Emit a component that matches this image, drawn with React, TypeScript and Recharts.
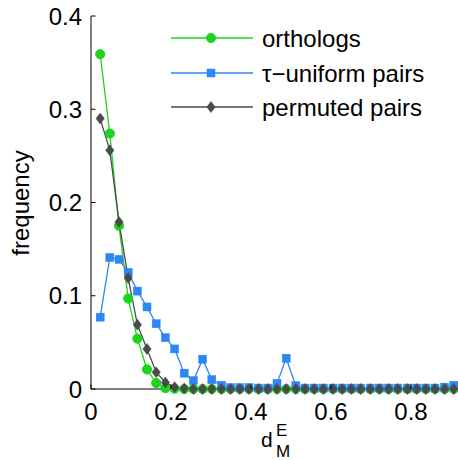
import { Label, Legend, Line, LineChart, XAxis, YAxis } from "recharts";

// bin positions (d_M^E)
const binX = [
  0.023, 0.047, 0.07, 0.093, 0.116, 0.14, 0.163, 0.186, 0.209, 0.233,
  0.256, 0.279, 0.302, 0.326, 0.349, 0.372, 0.395, 0.419, 0.442, 0.465,
  0.488, 0.512, 0.535, 0.558, 0.581, 0.605, 0.628, 0.651, 0.674, 0.698,
  0.721, 0.744, 0.767, 0.791, 0.814, 0.837, 0.86, 0.884, 0.907, 0.93
];

const orthologs = [
  0.359, 0.274, 0.175, 0.097, 0.054, 0.021, 0.0064, 0.001, 0.0003, 0,
  0, 0, 0, 0, 0, 0, 0, 0, 0, 0,
  0, 0, 0, 0, 0, 0, 0, 0, 0, 0,
  0, 0, 0, 0, 0, 0, 0, 0, 0, 0
];

const uniformPairs = [
  0.077, 0.141, 0.139, 0.125, 0.105, 0.088, 0.07, 0.055, 0.043, 0.017,
  0.009, 0.032, 0.01, 0.004, 0.0015, 0.0015, 0.0015, 0.001, 0.001, 0.006,
  0.033, 0.0035, 0.001, 0.001, 0.001, 0.001, 0.001, 0.001, 0.001, 0.001,
  0.001, 0.001, 0.001, 0.001, 0.001, 0.001, 0.001, 0.002, 0.004, 0.01
];

const permutedPairs = [
  0.29, 0.256, 0.179, 0.119, 0.069, 0.043, 0.018, 0.007, 0.002, 0.0005,
  0, 0, 0, 0, 0, 0, 0, 0, 0, 0,
  0, 0, 0, 0, 0, 0, 0, 0, 0, 0,
  0, 0, 0, 0, 0, 0, 0, 0, 0, 0
];

const xTicks = [0, 0.2, 0.4, 0.6, 0.8];
const yTicks = [0, 0.1, 0.2, 0.3, 0.4];

const GREEN = "#1bd41b";
const BLUE = "#2d86f2";
const GRAY = "#4a4a4a";
const FONT = "'Liberation Sans', Arial, Helvetica, sans-serif";

const rows = binX.map((x, i) => ({
  x,
  orthologs: orthologs[i],
  uniform: uniformPairs[i],
  permuted: permutedPairs[i]
}));

const legendItems = [
  { name: "orthologs", color: GREEN, shape: "circle" },
  { name: "\u03c4\u2212uniform pairs", color: BLUE, shape: "square" },
  { name: "permuted pairs", color: GRAY, shape: "diamond" }
];

function Marker({ shape, cx, cy, color }: { shape: string; cx: number; cy: number; color: string }) {
  if (shape === "circle") return <circle cx={cx} cy={cy} r={4.6} fill={color} stroke={color} />;
  if (shape === "square") return <rect x={cx - 4} y={cy - 4} width={8} height={8} fill={color} stroke={color} strokeWidth={0.5} />;
  return (
    <polygon
      points={`${cx},${cy - 5.5} ${cx + 4.2},${cy} ${cx},${cy + 5.5} ${cx - 4.2},${cy}`}
      fill={color}
      stroke={color}
      strokeWidth={0.5}
    />
  );
}

const makeDot = (shape: string, color: string) => (p: any) => {
  if (p.cx == null || p.cy == null) return <g key={p.index} />;
  return <Marker key={p.index} shape={shape} cx={p.cx} cy={p.cy} color={color} />;
};

const fmt = (v: number) => (v === 0 ? "0" : String(v));

function BottomTick(p: any) {
  return (
    <g>
      <line x1={p.x} y1={p.y} x2={p.x} y2={p.y - 4.5} stroke="#000" />
      <text x={p.x} y={p.y + 31} textAnchor="middle" fontSize={24} fontFamily={FONT} fill="#000">
        {fmt(p.payload.value)}
      </text>
    </g>
  );
}

function TopTick(p: any) {
  return <line x1={p.x} y1={p.y} x2={p.x} y2={p.y + 4.5} stroke="#000" />;
}

function LeftTick(p: any) {
  return (
    <g>
      <line x1={p.x} y1={p.y} x2={p.x + 4.5} y2={p.y} stroke="#000" />
      <text x={p.x - 9} y={p.y} dy="0.36em" textAnchor="end" fontSize={24} fontFamily={FONT} fill="#000">
        {fmt(p.payload.value)}
      </text>
    </g>
  );
}

function LegendBox() {
  return (
    <div style={{ fontFamily: FONT, fontSize: 24, color: "#000" }}>
      {legendItems.map((it) => (
        <div key={it.name} style={{ display: "flex", alignItems: "center", height: 34.5, whiteSpace: "nowrap" }}>
          <svg width={82} height={34} style={{ flex: "none" }}>
            <line x1={0} y1={17} x2={82} y2={17} stroke={it.color} strokeWidth={1.3} />
            <Marker shape={it.shape} cx={40} cy={17} color={it.color} />
          </svg>
          <span style={{ marginLeft: 9, lineHeight: "34.5px", position: "relative", top: 1 }}>{it.name}</span>
        </div>
      ))}
    </div>
  );
}

export default function App() {
  return (
    <div style={{ position: "fixed", left: 0, top: 0, width: 458, height: 460, overflow: "hidden", background: "#fff" }}>
      <LineChart width={500} height={460} data={rows} margin={{ top: 16, right: 9, bottom: 0, left: 0 }}>
        <XAxis
          dataKey="x"
          type="number"
          domain={[0, 1]}
          ticks={xTicks}
          interval={0}
          height={71}
          tickSize={0}
          tickMargin={0}
          tick={BottomTick}
          axisLine={{ stroke: "#000" }}
        >
          <Label
            content={() => (
              <g fontFamily={FONT} fill="#000">
                <text x={261} y={447} fontSize={21}>d</text>
                <text x={276} y={436} fontSize={17}>E</text>
                <text x={276} y={457} fontSize={17}>M</text>
              </g>
            )}
          />
        </XAxis>
        <XAxis
          xAxisId="top"
          orientation="top"
          dataKey="x"
          type="number"
          domain={[0, 1]}
          ticks={xTicks}
          interval={0}
          height={0}
          tickSize={0}
          tickMargin={0}
          tick={TopTick}
          axisLine={{ stroke: "#000" }}
        />
        <YAxis
          type="number"
          domain={[0, 0.4]}
          ticks={yTicks}
          interval={0}
          width={91}
          tickSize={0}
          tickMargin={0}
          tick={LeftTick}
          axisLine={{ stroke: "#000" }}
        >
          <Label
            content={() => (
              <text
                x={0}
                y={0}
                transform="translate(29,203) rotate(-90)"
                textAnchor="middle"
                fontSize={24}
                fontFamily={FONT}
                fill="#000"
              >
                frequency
              </text>
            )}
          />
        </YAxis>
        <Legend
          layout="vertical"
          align="center"
          verticalAlign="middle"
          content={LegendBox}
          wrapperStyle={{ position: "absolute", left: 171, top: 21, width: 280 }}
        />
        <Line
          dataKey="orthologs"
          stroke={GREEN}
          strokeWidth={1.3}
          dot={makeDot("circle", GREEN)}
          activeDot={false}
          isAnimationActive={false}
        />
        <Line
          dataKey="uniform"
          stroke={BLUE}
          strokeWidth={1.3}
          dot={makeDot("square", BLUE)}
          activeDot={false}
          isAnimationActive={false}
        />
        <Line
          dataKey="permuted"
          stroke={GRAY}
          strokeWidth={1.3}
          dot={makeDot("diamond", GRAY)}
          activeDot={false}
          isAnimationActive={false}
        />
      </LineChart>
    </div>
  );
}
